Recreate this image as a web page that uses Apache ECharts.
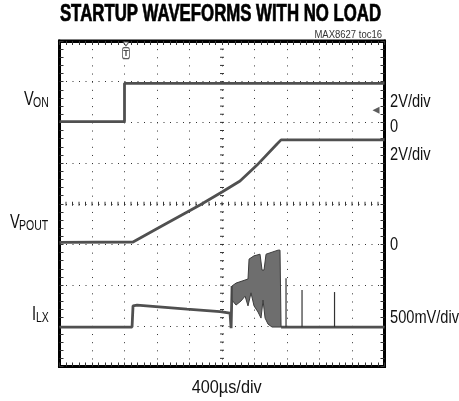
<!DOCTYPE html>
<html>
<head>
<meta charset="utf-8">
<script src="https://cdn.jsdelivr.net/npm/echarts@6/dist/echarts.min.js"></script>
<style>
  html, body { margin: 0; padding: 0; background: #fff; }
  #chart { width: 459px; height: 401px; }
</style>
</head>
<body>
<div id="chart"></div>
<script>
// Graticule: 10 horizontal divisions of 400 us, 8 vertical divisions
const TIME_PER_DIV = 400;
const H_DIVS = 10;
const V_DIVS = 8;
const MINOR_PER_DIV = 5;

// Trace levels are in screen divisions above the bottom of the graticule
// V_ON enable step
const VON_T   = [0, 800, 800, 4000];
const VON_DIV = [6.02, 6.02, 6.96, 6.96];

// V_POUT soft-start ramp
const VPOUT_T   = [0, 905, 1237, 1729, 2000, 2222, 2431, 2677, 2727, 4000];
const VPOUT_DIV = [3.05, 3.06, 3.43, 3.97, 4.29, 4.56, 4.95, 5.47, 5.57, 5.57];

// I_LX before the switching burst
const ILX_PRE_T   = [0, 893, 905, 955, 1569, 1976, 2099, 2112, 2124];
const ILX_PRE_DIV = [0.97, 0.97, 1.49, 1.51, 1.41, 1.35, 1.31, 0.94, 1.98];

// I_LX switching burst: upper and lower envelope
const BURST_UP_T   = [2124, 2173, 2247, 2320, 2333, 2394, 2468, 2493, 2517, 2542, 2616, 2690, 2714, 2727];
const BURST_UP_DIV = [1.98, 2.05, 2.10, 2.15, 2.64, 2.72, 2.76, 2.37, 2.37, 2.76, 2.81, 2.86, 2.86, 0.97];
const BURST_LO_T   = [2124, 2173, 2234, 2284, 2320, 2357, 2394, 2443, 2480, 2505, 2530, 2567, 2616, 2727];
const BURST_LO_DIV = [1.63, 1.51, 1.61, 1.73, 1.49, 1.81, 1.49, 1.34, 1.19, 1.63, 1.19, 1.04, 0.97, 0.97];

// I_LX after regulation, with isolated pulses
const ILX_POST_T   = [2727, 4000];
const ILX_POST_DIV = [0.97, 0.97];
const ILX_SPIKE_T   = [2788, 2985, 3385];
const ILX_SPIKE_TOP = [2.17, 1.88, 1.83];
const ILX_BASE = 0.97;

// Trigger position and channel-1 ground marker
const TRIGGER_T = 818;
const GND_MARK = [3895, 6.30];

const pairs = (t, v) => t.map((x, i) => [x, v[i]]);

const TRACE_COLOR = '#505050';
const traceStyle = { color: TRACE_COLOR, width: 2.8 };
const T_MAX = TIME_PER_DIV * H_DIVS;

function lineSeries(name, t, v) {
  return {
    name, type: 'line', data: pairs(t, v), showSymbol: false, symbol: 'none',
    lineStyle: traceStyle, itemStyle: { color: TRACE_COLOR }, z: 5, silent: true
  };
}

const axisCommon = {
  type: 'value',
  axisLine: { show: true, onZero: false, lineStyle: { color: '#000', width: 3 } },
  axisTick: { show: true, inside: true, length: 4, lineStyle: { color: '#333', width: 1 } },
  minorTick: { show: true, splitNumber: MINOR_PER_DIV, length: 4, lineStyle: { color: '#333', width: 1 } },
  axisLabel: { show: false }
};

const xBase = Object.assign({}, axisCommon, { min: 0, max: T_MAX, interval: TIME_PER_DIV });
const yBase = Object.assign({}, axisCommon, { min: 0, max: V_DIVS, interval: 1 });

const chart = echarts.init(document.getElementById('chart'), null, { renderer: 'canvas' });

const condensed = (text, x, y, size, sx, opts) => Object.assign({
  type: 'text', x, y, scaleX: sx, z: 10,
  style: Object.assign({
    text, font: size + 'px "Liberation Sans", Arial, sans-serif', fill: '#111',
    align: 'left', verticalAlign: 'middle'
  }, (opts && opts.style) || {})
}, (opts && opts.el) || {});

chart.setOption({
  animation: false,
  backgroundColor: '#fff',
  grid: { left: 59.5, top: 41, width: 325, height: 325.5, show: true, borderColor: '#000', borderWidth: 3, backgroundColor: 'transparent' },
  xAxis: [
    Object.assign({}, xBase, { position: 'bottom',
      splitLine: { show: true, lineStyle: { color: '#333', width: 1, type: [1, 7.14] } } }),
    Object.assign({}, xBase, { position: 'top', splitLine: { show: false } })
  ],
  yAxis: [
    Object.assign({}, yBase, { position: 'left',
      splitLine: { show: true, lineStyle: { color: '#333', width: 1, type: [1, 5.5] } } }),
    Object.assign({}, yBase, { position: 'right', splitLine: { show: false } })
  ],
  series: [
    {
      // center cross ticks of the graticule
      name: 'graticule', type: 'custom', silent: true, z: 2,
      data: [[T_MAX / 2, V_DIVS / 2]],
      renderItem: function (params, api) {
        const children = [];
        const n = H_DIVS * MINOR_PER_DIV;
        for (let i = 1; i < n; i++) {
          const p = api.coord([i * TIME_PER_DIV / MINOR_PER_DIV, V_DIVS / 2]);
          children.push({ type: 'line', shape: { x1: p[0], y1: p[1] - 2, x2: p[0], y2: p[1] + 2 },
            style: { stroke: '#333', lineWidth: 1 } });
        }
        const m = V_DIVS * MINOR_PER_DIV;
        for (let j = 1; j < m; j++) {
          const p = api.coord([T_MAX / 2, j / MINOR_PER_DIV]);
          children.push({ type: 'line', shape: { x1: p[0] - 2, y1: p[1], x2: p[0] + 2, y2: p[1] },
            style: { stroke: '#333', lineWidth: 1 } });
        }
        return { type: 'group', children };
      }
    },
    lineSeries('VON', VON_T, VON_DIV),
    lineSeries('VPOUT', VPOUT_T, VPOUT_DIV),
    lineSeries('ILX', ILX_PRE_T, ILX_PRE_DIV),
    lineSeries('ILX tail', ILX_POST_T, ILX_POST_DIV),
    {
      name: 'ILX burst', type: 'custom', silent: true, z: 6,
      data: [[BURST_UP_T[0], BURST_UP_DIV[0]]],
      renderItem: function (params, api) {
        const pts = [];
        BURST_UP_T.forEach((t, i) => pts.push(api.coord([t, BURST_UP_DIV[i]])));
        for (let i = BURST_LO_T.length - 1; i >= 0; i--) pts.push(api.coord([BURST_LO_T[i], BURST_LO_DIV[i]]));
        return { type: 'polygon', shape: { points: pts },
          style: { fill: '#6e6e6e', stroke: '#3c3c3c', lineWidth: 1 } };
      }
    },
    {
      name: 'ILX pulses', type: 'custom', silent: true, z: 6,
      data: pairs(ILX_SPIKE_T, ILX_SPIKE_TOP),
      renderItem: function (params, api) {
        const top = api.coord([api.value(0), api.value(1)]);
        const base = api.coord([api.value(0), ILX_BASE]);
        return { type: 'line', shape: { x1: top[0], y1: top[1], x2: base[0], y2: base[1] },
          style: { stroke: '#333', lineWidth: 1.2 } };
      }
    },
    {
      name: 'markers', type: 'scatter', silent: true, z: 7,
      data: [
        { value: GND_MARK, symbol: 'triangle', symbolRotate: 90, symbolSize: [7, 7],
          itemStyle: { color: '#333' } },
        { value: [TRIGGER_T, 7.93], symbol: 'triangle', symbolRotate: 180, symbolSize: [6, 4],
          itemStyle: { color: '#fff', borderColor: '#333', borderWidth: 1 } },
        { value: [TRIGGER_T, 7.70], symbol: 'roundRect', symbolSize: [7, 11],
          itemStyle: { color: '#fff', borderColor: '#333', borderWidth: 1 },
          label: { show: true, position: 'inside', formatter: 'T', fontSize: 9, fontWeight: 'bold', color: '#222' } }
      ]
    }
  ],
  graphic: [
    condensed('STARTUP WAVEFORMS WITH NO LOAD', 220.5, 15, 23, 0.73,
      { style: { font: 'bold 23px "Liberation Sans", Arial, sans-serif', align: 'center', fill: '#000', stroke: '#000', lineWidth: 0.7 } }),
    condensed('MAX8627 toc16', 382, 35, 10, 0.95, { style: { align: 'right', fill: '#333' } }),
    // channel names
    condensed('V', 24, 100, 19.5, 0.75),
    condensed('ON', 33, 103.5, 14, 0.75),
    condensed('V', 10, 222.5, 19.5, 0.75),
    condensed('POUT', 19, 226, 14, 0.75),
    condensed('I', 32, 315, 19.5, 0.75),
    condensed('LX', 36, 318.5, 14, 0.75),
    // channel scales
    condensed('2V/div', 390, 102, 18.5, 0.79),
    condensed('0', 390, 127.3, 18.5, 0.79),
    condensed('2V/div', 390, 155, 18.5, 0.79),
    condensed('0', 390, 244.5, 18.5, 0.79),
    condensed('500mV/div', 390, 317.5, 18.5, 0.79),
    condensed('400\u00b5s/div', 226.7, 388.3, 18.5, 0.88, { style: { align: 'center' } })
  ]
});
</script>
</body>
</html>
